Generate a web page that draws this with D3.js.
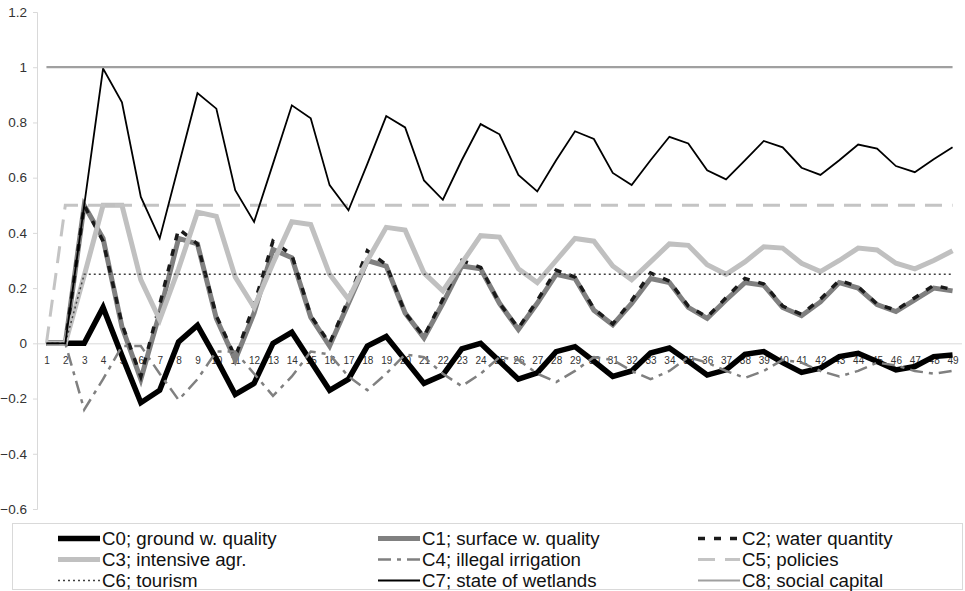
<!DOCTYPE html>
<html>
<head>
<meta charset="utf-8">
<script src="https://cdn.jsdelivr.net/npm/d3@7"></script>
<style>
	body { margin: 0; background: #fff; }
	#chart text { font-family: "Liberation Sans", Arial, sans-serif; }
</style>
</head>
<body>
<div id="chart"></div>
<script>

var categories = d3.range(1, 50);

var yTicks = [-0.6, -0.4, -0.2, 0, 0.2, 0.4, 0.6, 0.8, 1, 1.2];

var seriesNames = ['C0; ground w. quality', 'C1; surface w. quality', 'C2; water quantity',
	'C3; intensive agr.', 'C4; illegal irrigation', 'C5; policies',
	'C6; tourism', 'C7; state of wetlands', 'C8; social capital'];

var c0 = [0, 0, 0, 0.13, -0.045, -0.215, -0.17, 0.005, 0.065, -0.056,
	-0.185, -0.145, 0.0, 0.04, -0.065, -0.17, -0.13, -0.01, 0.025, -0.06,
	-0.145, -0.115, -0.02, 0.0, -0.065, -0.13, -0.107, -0.03, -0.012, -0.065,
	-0.12, -0.1, -0.035, -0.017, -0.065, -0.115, -0.096, -0.04, -0.03, -0.07,
	-0.105, -0.09, -0.048, -0.036, -0.066, -0.096, -0.084, -0.048, -0.042];

var c1 = [0, 0, 0.5, 0.38, 0.06, -0.13, 0.11, 0.38, 0.36, 0.09,
	-0.06, 0.11, 0.34, 0.31, 0.095, -0.01, 0.145, 0.30, 0.28, 0.11,
	0.02, 0.145, 0.28, 0.27, 0.145, 0.05, 0.145, 0.25, 0.235, 0.12,
	0.067, 0.145, 0.235, 0.22, 0.13, 0.09, 0.157, 0.22, 0.21, 0.13,
	0.1, 0.15, 0.22, 0.2, 0.14, 0.115, 0.157, 0.2, 0.19];

var c2 = [0, 0, 0.5, 0.37, 0.07, -0.12, 0.14, 0.415, 0.36, 0.1,
	-0.05, 0.14, 0.37, 0.32, 0.1, 0.0, 0.16, 0.335, 0.285, 0.11,
	0.025, 0.16, 0.3, 0.275, 0.145, 0.055, 0.155, 0.265, 0.24, 0.125,
	0.07, 0.155, 0.255, 0.225, 0.135, 0.095, 0.165, 0.235, 0.215, 0.135,
	0.105, 0.16, 0.228, 0.205, 0.142, 0.12, 0.165, 0.21, 0.195];

var c3 = [0, 0, 0.245, 0.5, 0.5, 0.23, 0.085, 0.27, 0.475, 0.46,
	0.24, 0.13, 0.29, 0.44, 0.43, 0.25, 0.16, 0.30, 0.42, 0.41,
	0.255, 0.19, 0.29, 0.39, 0.385, 0.27, 0.22, 0.3, 0.38, 0.37,
	0.28, 0.23, 0.295, 0.36, 0.355, 0.285, 0.25, 0.295, 0.35, 0.345,
	0.29, 0.26, 0.3, 0.345, 0.338, 0.29, 0.27, 0.3, 0.335];

var c4 = [0, 0, -0.24, -0.13, -0.01, -0.01, -0.11, -0.205, -0.13, -0.03,
	-0.03, -0.11, -0.19, -0.12, -0.03, -0.04, -0.12, -0.17, -0.11, -0.04,
	-0.05, -0.11, -0.155, -0.11, -0.05, -0.06, -0.11, -0.14, -0.1, -0.05,
	-0.06, -0.1, -0.13, -0.1, -0.05, -0.07, -0.1, -0.125, -0.1, -0.06,
	-0.07, -0.1, -0.12, -0.1, -0.07, -0.08, -0.1, -0.11, -0.1];

var c5 = [0, 0.5, 0.5, 0.5, 0.5, 0.5, 0.5, 0.5, 0.5, 0.5,
	0.5, 0.5, 0.5, 0.5, 0.5, 0.5, 0.5, 0.5, 0.5, 0.5,
	0.5, 0.5, 0.5, 0.5, 0.5, 0.5, 0.5, 0.5, 0.5, 0.5,
	0.5, 0.5, 0.5, 0.5, 0.5, 0.5, 0.5, 0.5, 0.5, 0.5,
	0.5, 0.5, 0.5, 0.5, 0.5, 0.5, 0.5, 0.5, 0.5];

var c6 = [0, 0, 0.25, 0.25, 0.25, 0.25, 0.25, 0.25, 0.25, 0.25,
	0.25, 0.25, 0.25, 0.25, 0.25, 0.25, 0.25, 0.25, 0.25, 0.25,
	0.25, 0.25, 0.25, 0.25, 0.25, 0.25, 0.25, 0.25, 0.25, 0.25,
	0.25, 0.25, 0.25, 0.25, 0.25, 0.25, 0.25, 0.25, 0.25, 0.25,
	0.25, 0.25, 0.25, 0.25, 0.25, 0.25, 0.25, 0.25, 0.25];

var c7 = [0, 0, 0.5, 0.995, 0.873, 0.53, 0.38, 0.643, 0.906, 0.85,
	0.555, 0.44, 0.65, 0.862, 0.815, 0.573, 0.482, 0.65, 0.823, 0.782,
	0.59, 0.52, 0.663, 0.794, 0.757, 0.61, 0.55, 0.663, 0.768, 0.74,
	0.617, 0.573, 0.663, 0.748, 0.724, 0.627, 0.594, 0.663, 0.733, 0.71,
	0.636, 0.61, 0.663, 0.72, 0.705, 0.642, 0.62, 0.667, 0.71];

var c8 = [1, 1, 1, 1, 1, 1, 1, 1, 1, 1,
	1, 1, 1, 1, 1, 1, 1, 1, 1, 1,
	1, 1, 1, 1, 1, 1, 1, 1, 1, 1,
	1, 1, 1, 1, 1, 1, 1, 1, 1, 1,
	1, 1, 1, 1, 1, 1, 1, 1, 1];

// line styles, same order as seriesNames
var styles = [
	{color: '#000000', width: 5.5, dash: null},
	{color: '#808080', width: 5, dash: null},
	{color: '#1a1a1a', width: 3.5, dash: '7,9'},
	{color: '#c0c0c0', width: 5, dash: null},
	{color: '#808080', width: 2.5, dash: '13,6,4,6'},
	{color: '#c4c4c4', width: 3, dash: '17,10'},
	{color: '#404040', width: 1.5, dash: '2,3'},
	{color: '#000000', width: 1.8, dash: null},
	{color: '#a0a0a0', width: 2.2, dash: null}
];

var values = [c0, c1, c2, c3, c4, c5, c6, c7, c8];

function createChart() {
	var svgWidth = 965;
	var svgHeight = 591;
	var plot = {left: 37, right: 962, top: 12, bottom: 509};

	var svg = d3.select('#chart').append('svg')
		.attr('width', svgWidth).attr('height', svgHeight);

	var x = d3.scalePoint().domain(categories).range([plot.left, plot.right]).padding(0.5);
	var y = d3.scaleLinear().domain([-0.6, 1.2]).range([plot.bottom, plot.top]);

	// y axis
	var yAxis = svg.append('g')
		.attr('transform', 'translate(' + plot.left + ',0)')
		.call(d3.axisLeft(y).tickValues(yTicks).tickSize(4).tickPadding(6)
			.tickFormat(function(d) { return d3.format('')(+d.toFixed(1)); }));
	yAxis.select('.domain').attr('stroke', '#d9d9d9');
	yAxis.selectAll('.tick line').attr('stroke', '#d9d9d9');
	yAxis.selectAll('text').style('font-size', '13.5px').attr('fill', '#333');

	// x axis on the zero line
	var xAxis = svg.append('g')
		.attr('transform', 'translate(0,' + y(0) + ')')
		.call(d3.axisBottom(x).tickSize(0).tickPadding(14));
	xAxis.select('.domain').attr('stroke', '#d9d9d9').attr('d', 'M' + plot.left + ',0.5H' + plot.right);
	xAxis.selectAll('text').style('font-size', '10px').attr('fill', '#333');

	var line = d3.line()
		.x(function(d, i) { return x(categories[i]); })
		.y(function(d) { return y(d); });

	values.forEach(function(v, i) {
		svg.append('path')
			.datum(v)
			.attr('fill', 'none')
			.attr('stroke', styles[i].color)
			.attr('stroke-width', styles[i].width)
			.attr('stroke-dasharray', styles[i].dash)
			.attr('stroke-linejoin', 'miter')
			.attr('d', line);
	});

	// legend
	svg.append('rect')
		.attr('x', 12.5).attr('y', 523.5)
		.attr('width', 950).attr('height', 66)
		.attr('fill', 'none').attr('stroke', '#d9d9d9');

	var colX = [58, 378, 698];
	var rowY = [545, 566, 587];

	var legend = svg.selectAll('.legend').data(seriesNames)
		.enter().append('g')
		.attr('class', 'legend')
		.attr('transform', function(d, i) {
			return 'translate(' + colX[i % 3] + ',' + rowY[Math.floor(i / 3)] + ')';
		});

	legend.append('line')
		.attr('x1', 0).attr('x2', 42)
		.attr('y1', -6.5).attr('y2', -6.5)
		.attr('stroke', function(d, i) { return styles[i].color; })
		.attr('stroke-width', function(d, i) { return styles[i].width; })
		.attr('stroke-dasharray', function(d, i) { return styles[i].dash; });

	legend.append('text')
		.attr('x', 44)
		.style('font-size', '18.7px')
		.attr('fill', '#111')
		.text(function(d) { return d; });
};

createChart();

</script>
</body>
</html>
